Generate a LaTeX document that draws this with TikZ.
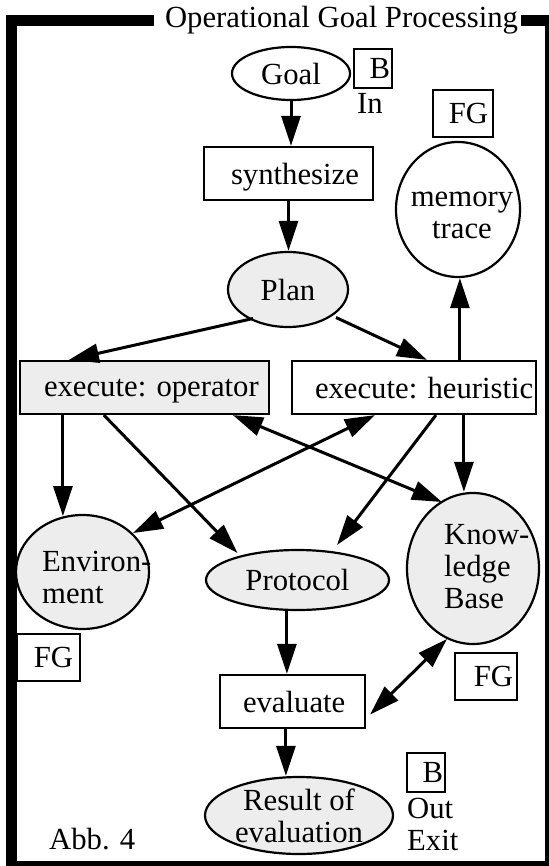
\documentclass[tikz,border=0pt]{standalone}
\usepackage{fontspec}
\setmainfont{Liberation Serif}
\usetikzlibrary{shapes.geometric,arrows.meta,calc}
\begin{document}
\begin{tikzpicture}[x=1pt,y=-1pt,
  txt/.style={font=\fontsize{30.7pt}{32pt}\selectfont, inner sep=0pt},
  ell/.style={txt, ellipse, draw, line width=2.2pt, text depth=0pt},
  gell/.style={ell, fill=black!7},
  box/.style={txt, rectangle, draw, line width=2.2pt, text depth=0pt},
  gbox/.style={box, fill=black!7},
  tag/.style={txt, rectangle, draw, line width=2pt, text depth=0pt},
  frame/.style={line width=10.5pt, line join=miter, line cap=butt},
  arr/.style={line width=3pt, -{Triangle[length=30pt,width=19pt]}},
  darr/.style={line width=3pt, {Triangle[length=30pt,width=19pt]}-{Triangle[length=30pt,width=19pt]}}
]
\useasboundingbox (0,0) rectangle (548,866);

% frame
\draw[frame] (154,20.5) -- (11.25,20.5) -- (11.25,866) -- (550,866) -- (550,20.5) -- (520.7,20.5);
\node[txt, anchor=base] (title) at (341.5,28) {Operational Goal Processing};

% nodes
\node[ell, minimum width=118pt, minimum height=53pt] (goal) at (291,73.5) {Goal};
\node[tag, minimum width=38pt, minimum height=39pt] (bin) at (373,68.5) {\makebox[38pt][r]{B\hspace{2pt}}};
\node[txt, anchor=base west] (inT) at (357,114) {In};
\node[tag, minimum width=60pt, minimum height=47pt] (fgtop) at (463,113.5) {\makebox[60pt][r]{FG\hspace{5pt}}};

\node[box, minimum height=53pt] (synth) at (288.5,173.5) {\makebox[169pt][l]{\hspace{27pt}synthesize}};
\node[gell, minimum width=120pt, minimum height=75pt] (plan) at (288,289.5) {Plan};

\node[ell, minimum width=124pt, minimum height=135pt] (mem) at (458,209.5) {};
\node[txt, align=center] (memT) at (462,215) {memory\\trace};

\node[gbox, minimum height=53pt] (eo) at (144.5,387.5) {\makebox[249pt][l]{\hspace{24pt}execute: operator}};
\node[box, minimum height=53pt] (eh) at (414,387.5) {\makebox[244pt][l]{\hspace{23pt}execute: heuristic}};

\node[gell, minimum width=133pt, minimum height=114pt] (env) at (82.5,572) {};
\node[txt, align=left, anchor=west] (envT) at (42,577) {Environ-\\ment};

\node[gell, minimum width=183pt, minimum height=60pt] (proto) at (297.5,580) {Protocol};

\node[gell, minimum width=132pt, minimum height=151pt] (kb) at (473,568.5) {};
\node[txt, align=left, anchor=west] (kbT) at (444,567) {Know-\\ledge\\Base};

\node[tag, minimum width=63pt, minimum height=47pt] (fgl) at (48.5,657.5) {\makebox[63pt][r]{FG\hspace{7pt}}};
\node[tag, minimum width=62pt, minimum height=47pt] (fgr) at (486,676.5) {\makebox[62pt][r]{FG\hspace{4pt}}};

\node[box, minimum height=53pt] (eval) at (292.5,701.5) {\makebox[145pt][l]{\hspace{23pt}evaluate}};

\node[tag, minimum width=38pt, minimum height=39pt] (bout) at (426,772.5) {\makebox[38pt][r]{B\hspace{2pt}}};
\node[txt, align=left, anchor=west] (outT) at (407,824) {Out\\Exit};

\node[gell, minimum width=188pt, minimum height=77pt, align=center] (result) at (299,815.5) {Result of\\evaluation};

\node[txt, anchor=base west] (abb) at (49,849) {Abb. 4};

% connectors
\draw[arr] (goal.south) -- (goal.south |- synth.north);
\draw[arr] (synth.south) -- (synth.south |- plan.north);
\draw[arr] ($(plan.center)+(-35,29)$) -- ($(eo.north west)+(50,0)$);
\draw[arr] ($(plan.center)+(48,28)$) -- ($(eh.north west)+(136,0)$);

\coordinate (ehm) at ($(eh.north west)+(169,0)$);
\draw[arr] (ehm) -- (ehm |- mem.south);

\coordinate (eoe) at ($(eo.south west)+(44,0)$);
\draw[arr] (eoe) -- (eoe |- env.108);

\draw[arr] ($(eo.south west)+(85,0)$) -- ($(proto.center)+(-60,-27)$);
\draw[arr] ($(eh.south west)+(145,0)$) -- ($(proto.center)+(39.5,-35)$);
\draw[darr] ($(eo.south west)+(214,0)$) -- ($(kb.center)+(-31,-66.5)$);
\draw[darr] ($(env.center)+(50.5,-39)$) -- ($(eh.south west)+(84,0)$);

\coordinate (ehk) at ($(eh.south west)+(173,0)$);
\draw[arr] (ehk) -- (ehk |- kb.north);

\coordinate (pe) at ($(eval.north west)+(68,0)$);
\draw[arr] (pe |- proto.south) -- (pe);

\draw[darr] ($(kb.center)+(-26,70.5)$) -- ($(eval.east)+(4,13)$);

\coordinate (er) at ($(eval.south west)+(67,0)$);
\draw[arr] (er) -- (er |- result.north);
\end{tikzpicture}
\end{document}
